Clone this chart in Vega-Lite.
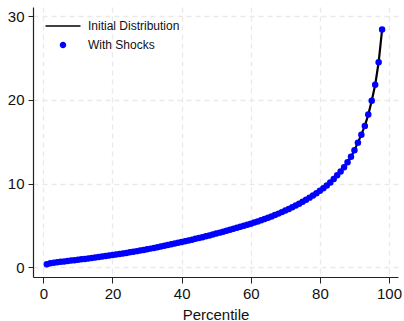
{
  "$schema": "https://vega.github.io/schema/vega-lite/v6.json",
  "width": 365,
  "height": 270,
  "autosize": "none",
  "padding": {"left": 33, "top": 7, "right": 6, "bottom": 44},
  "background": "white",
  "config": {
    "font": "Liberation Sans",
    "view": {"stroke": null},
    "axis": {
      "labelFont": "Liberation Sans",
      "titleFont": "Liberation Sans",
      "labelFontSize": 15,
      "titleFontSize": 15,
      "titleFontWeight": "normal",
      "labelColor": "#111",
      "titleColor": "#111",
      "domainColor": "#222",
      "domainWidth": 1.2,
      "tickColor": "#222",
      "tickSize": 6,
      "tickWidth": 1,
      "gridColor": "#e9e9e9",
      "gridDash": [5, 4],
      "gridWidth": 1.3
    }
  },
  "data": {
    "values": [
      {"p": 1, "v": 0.38}, {"p": 2, "v": 0.48}, {"p": 3, "v": 0.55}, {"p": 4, "v": 0.61},
      {"p": 5, "v": 0.66}, {"p": 6, "v": 0.71}, {"p": 7, "v": 0.76}, {"p": 8, "v": 0.81},
      {"p": 9, "v": 0.86}, {"p": 10, "v": 0.91}, {"p": 11, "v": 0.96}, {"p": 12, "v": 1.01},
      {"p": 13, "v": 1.07}, {"p": 14, "v": 1.12}, {"p": 15, "v": 1.18}, {"p": 16, "v": 1.24},
      {"p": 17, "v": 1.30}, {"p": 18, "v": 1.36}, {"p": 19, "v": 1.42}, {"p": 20, "v": 1.48},
      {"p": 21, "v": 1.54}, {"p": 22, "v": 1.60}, {"p": 23, "v": 1.67}, {"p": 24, "v": 1.73},
      {"p": 25, "v": 1.80}, {"p": 26, "v": 1.87}, {"p": 27, "v": 1.94}, {"p": 28, "v": 2.01},
      {"p": 29, "v": 2.08}, {"p": 30, "v": 2.16}, {"p": 31, "v": 2.24}, {"p": 32, "v": 2.32},
      {"p": 33, "v": 2.40}, {"p": 34, "v": 2.48}, {"p": 35, "v": 2.57}, {"p": 36, "v": 2.66},
      {"p": 37, "v": 2.75}, {"p": 38, "v": 2.84}, {"p": 39, "v": 2.94}, {"p": 40, "v": 3.04},
      {"p": 41, "v": 3.13}, {"p": 42, "v": 3.22}, {"p": 43, "v": 3.31}, {"p": 44, "v": 3.41},
      {"p": 45, "v": 3.51}, {"p": 46, "v": 3.61}, {"p": 47, "v": 3.71}, {"p": 48, "v": 3.82},
      {"p": 49, "v": 3.93}, {"p": 50, "v": 4.04}, {"p": 51, "v": 4.15}, {"p": 52, "v": 4.26},
      {"p": 53, "v": 4.38}, {"p": 54, "v": 4.50}, {"p": 55, "v": 4.62}, {"p": 56, "v": 4.74},
      {"p": 57, "v": 4.86}, {"p": 58, "v": 4.98}, {"p": 59, "v": 5.10}, {"p": 60, "v": 5.22},
      {"p": 61, "v": 5.35}, {"p": 62, "v": 5.49}, {"p": 63, "v": 5.63}, {"p": 64, "v": 5.78},
      {"p": 65, "v": 5.93}, {"p": 66, "v": 6.09}, {"p": 67, "v": 6.25}, {"p": 68, "v": 6.42},
      {"p": 69, "v": 6.60}, {"p": 70, "v": 6.79}, {"p": 71, "v": 6.98}, {"p": 72, "v": 7.18},
      {"p": 73, "v": 7.39}, {"p": 74, "v": 7.61}, {"p": 75, "v": 7.84}, {"p": 76, "v": 8.08},
      {"p": 77, "v": 8.33}, {"p": 78, "v": 8.59}, {"p": 79, "v": 8.86}, {"p": 80, "v": 9.14},
      {"p": 81, "v": 9.45}, {"p": 82, "v": 9.78}, {"p": 83, "v": 10.15}, {"p": 84, "v": 10.55},
      {"p": 85, "v": 11.00}, {"p": 86, "v": 11.45}, {"p": 87, "v": 11.95}, {"p": 88, "v": 12.55},
      {"p": 89, "v": 13.20}, {"p": 90, "v": 14.00}, {"p": 91, "v": 14.90}, {"p": 92, "v": 15.85},
      {"p": 93, "v": 16.90}, {"p": 94, "v": 18.25}, {"p": 95, "v": 19.90}, {"p": 96, "v": 21.80},
      {"p": 97, "v": 24.50}, {"p": 98, "v": 28.40}
    ]
  },
  "encoding": {
    "x": {
      "field": "p",
      "type": "quantitative",
      "title": "Percentile",
      "scale": {"domain": [-3, 102.6], "nice": false, "zero": false},
      "axis": {"values": [0, 20, 40, 60, 80, 100], "labelPadding": 3, "titlePadding": 6, "labelFlush": false}
    },
    "y": {
      "field": "v",
      "type": "quantitative",
      "title": null,
      "scale": {"domain": [-1.15, 31.1], "nice": false, "zero": false},
      "axis": {"values": [0, 10, 20, 30], "labelPadding": 4, "tickSize": 5}
    }
  },
  "layer": [
    {
      "mark": {"type": "line", "strokeWidth": 2.2},
      "encoding": {
        "color": {
          "datum": "Initial Distribution",
          "type": "nominal",
          "scale": {"domain": ["Initial Distribution", "With Shocks"], "range": ["black", "blue"]},
          "legend": {
            "title": null,
            "orient": "none",
            "legendX": 23,
            "legendY": 12,
            "padding": 0,
            "rowPadding": 6,
            "labelFont": "Liberation Sans",
            "labelFontSize": 12,
            "labelColor": "#111",
            "labelOffset": 18,
            "symbolSize": 136,
            "symbolStrokeWidth": 1.5,
            "encode": {
              "symbols": {
                "update": {
                  "shape": {"signal": "datum.value === 'With Shocks' ? 'M0.42,0A0.42,0.42 0 1,1 -0.42,0A0.42,0.42 0 1,1 0.42,0Z' : 'M-3,0H3'"},
                  "size": {"value": 136},
                  "strokeWidth": {"value": 1.6},
                  "fill": {"signal": "datum.value === 'With Shocks' ? 'blue' : 'transparent'"},
                  "stroke": {"signal": "datum.value === 'With Shocks' ? 'blue' : 'black'"},
                  "opacity": {"value": 1},
                  "fillOpacity": {"value": 1},
                  "strokeOpacity": {"value": 1}
                }
              }
            }
          }
        }
      }
    },
    {
      "mark": {"type": "point", "filled": true, "size": 42, "opacity": 1},
      "encoding": {
        "color": {
          "datum": "With Shocks",
          "type": "nominal",
          "scale": {"domain": ["Initial Distribution", "With Shocks"], "range": ["black", "blue"]}
        }
      }
    }
  ]
}
